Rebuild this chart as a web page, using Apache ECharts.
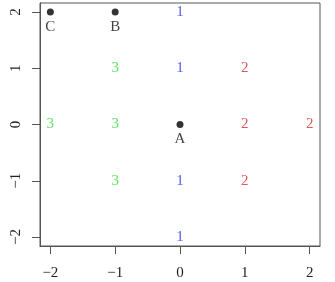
<!DOCTYPE html>
<html><head><meta charset="utf-8">
<script src="https://cdn.jsdelivr.net/npm/echarts@6/dist/echarts.min.js"></script>
<style>html,body{margin:0;padding:0;background:#fff}#c{width:335px;height:282px}</style>
</head><body><div id="c"></div>
<script>
const tickValues = [-2, -1, 0, 1, 2];
const ones = [[0, 2], [0, 1], [0, -1], [0, -2]];
const twos = [[1, 1], [1, 0], [2, 0], [1, -1]];
const threes = [[-1, 1], [-2, 0], [-1, 0], [-1, -1]];
const namedPts = [[-2, 2], [-1, 2], [0, 0]];
const pointNames = ['C', 'B', 'A'];

const font = 'Liberation Serif';
const axisCol = '#555';
function numSeries(pts, txt, col) {
  return {
    type: 'scatter', data: pts, symbolSize: 1, itemStyle: {color: 'rgba(0,0,0,0)'}, silent: true,
    label: {show: true, position: 'inside', formatter: txt, color: col, fontFamily: font, fontSize: 15}
  };
}
const chart = echarts.init(document.getElementById('c'), null, {renderer: 'canvas'});
chart.setOption({
  animation: false,
  grid: {left: 40, right: 15, top: 3, bottom: 36, show: true, borderColor: axisCol, borderWidth: 1, backgroundColor: 'transparent'},
  xAxis: {
    type: 'value', min: -2.16, max: 2.16, splitLine: {show: false},
    axisLine: {show: true, onZero: false, lineStyle: {color: axisCol}},
    axisTick: {show: true, length: 8, customValues: tickValues, lineStyle: {color: axisCol}},
    axisLabel: {customValues: tickValues, margin: 20, color: '#222', fontFamily: font, fontSize: 15,
      formatter: v => v < 0 ? '\u2212' + Math.abs(v) : String(v)}
  },
  yAxis: {
    type: 'value', min: -2.16, max: 2.16, splitLine: {show: false},
    axisLine: {show: true, onZero: false, lineStyle: {color: axisCol}},
    axisTick: {show: true, length: 8, customValues: tickValues, lineStyle: {color: axisCol}},
    axisLabel: {customValues: tickValues, rotate: 90, margin: 16, color: '#222', fontFamily: font, fontSize: 15,
      formatter: v => v < 0 ? '\u2212' + Math.abs(v) : String(v)}
  },
  series: [
    numSeries(ones, '1', '#3030d8'),
    numSeries(twos, '2', '#d82a2a'),
    numSeries(threes, '3', '#33dd33'),
    {
      type: 'scatter', symbol: 'circle', symbolSize: 7, itemStyle: {color: '#000'},
      data: namedPts.map((p, i) => ({value: p, name: pointNames[i]})),
      label: {show: true, position: 'bottom', distance: 4, formatter: '{b}', color: '#111', fontFamily: font, fontSize: 15}
    }
  ]
});
</script></body></html>
